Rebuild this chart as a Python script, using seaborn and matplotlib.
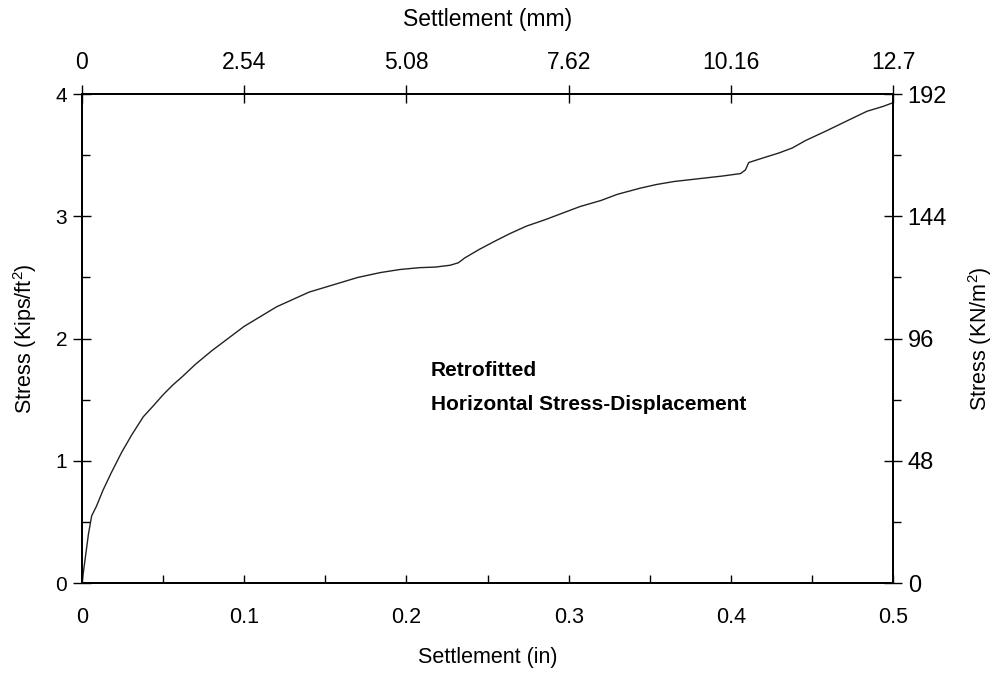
import matplotlib
matplotlib.use("Agg")
import matplotlib.pyplot as plt
import seaborn as sns
import pandas as pd
from matplotlib import font_manager
from matplotlib.ticker import MultipleLocator, FixedLocator

# Data (settlement in inches, stress in kips/ft^2)
settlement_in = [0.0, 0.002, 0.004, 0.006, 0.009, 0.013, 0.018, 0.0245, 0.0306, 0.0378,
                 0.044, 0.050, 0.056, 0.062, 0.07, 0.08, 0.09, 0.10, 0.11, 0.12,
                 0.13, 0.14, 0.15, 0.16, 0.17, 0.184, 0.196, 0.208, 0.218, 0.227,
                 0.232, 0.236, 0.245, 0.255, 0.264, 0.274, 0.285, 0.295, 0.307, 0.32,
                 0.33, 0.344, 0.354, 0.365, 0.375, 0.395, 0.406, 0.409, 0.411, 0.418,
                 0.430, 0.438, 0.446, 0.459, 0.473, 0.484, 0.494, 0.5]
stress_ksf = [0.0, 0.20, 0.40, 0.55, 0.63, 0.76, 0.90, 1.07, 1.21, 1.36,
              1.45, 1.54, 1.62, 1.69, 1.79, 1.90, 2.00, 2.10, 2.18, 2.26,
              2.32, 2.38, 2.42, 2.46, 2.50, 2.54, 2.565, 2.58, 2.585, 2.60,
              2.62, 2.66, 2.73, 2.80, 2.86, 2.92, 2.97, 3.02, 3.08, 3.13,
              3.18, 3.23, 3.26, 3.285, 3.30, 3.33, 3.35, 3.38, 3.44, 3.47,
              3.52, 3.56, 3.62, 3.70, 3.79, 3.86, 3.90, 3.93]

x_ticks_in = [0, 0.1, 0.2, 0.3, 0.4, 0.5]
x_ticks_in_labels = ["0", "0.1", "0.2", "0.3", "0.4", "0.5"]
x_ticks_mm = [0, 2.54, 5.08, 7.62, 10.16, 12.7]
x_ticks_mm_labels = ["0", "2.54", "5.08", "7.62", "10.16", "12.7"]
y_ticks_ksf = [0, 1, 2, 3, 4]
y_ticks_kn = [0, 48, 96, 144, 192]

sns.set_style("ticks")
plt.rcParams['font.family'] = ['Liberation Sans', 'DejaVu Sans']
plt.rcParams['mathtext.fontset'] = 'custom'
plt.rcParams['mathtext.rm'] = 'Liberation Sans'
plt.rcParams['text.color'] = 'black'
plt.rcParams['axes.labelcolor'] = 'black'
plt.rcParams['xtick.color'] = 'black'
plt.rcParams['ytick.color'] = 'black'

names = {f.name for f in font_manager.fontManager.ttflist}
narrow = 'Liberation Sans Narrow' if 'Liberation Sans Narrow' in names else 'Liberation Sans'

fig = plt.figure(figsize=(10.08, 6.77), dpi=100)
ax = fig.add_axes([0.0813, 0.1388, 0.8047, 0.7222])

df = pd.DataFrame({"Settlement (in)": settlement_in, "Stress": stress_ksf})
sns.lineplot(data=df, x="Settlement (in)", y="Stress", ax=ax, color="#222222",
             linewidth=1.0, sort=False, estimator=None)

ax.set_xlim(0, 0.5)
ax.set_ylim(0, 4)
ax.set_xticks(x_ticks_in)
ax.set_xticklabels(x_ticks_in_labels)
ax.set_yticks(y_ticks_ksf)
ax.xaxis.set_minor_locator(MultipleLocator(0.05))
ax.yaxis.set_minor_locator(MultipleLocator(0.5))
ax.tick_params(axis='x', which='major', direction='in', length=6, width=1, labelsize=15.5, pad=17)
ax.tick_params(axis='x', which='minor', direction='in', length=6, width=1)
ax.tick_params(axis='y', which='major', direction='inout', length=13, width=1, labelsize=15, pad=4)
ax.tick_params(axis='y', which='minor', direction='in', length=6, width=1)
ax.set_xlabel("Settlement (in)", fontsize=15.5, labelpad=14)
ax.set_ylabel("Stress (Kips/ft$^2$)", fontsize=15.5, labelpad=12)
for s in ax.spines.values():
    s.set_linewidth(1.2)
    s.set_color('black')

ax.text(0.215, 1.74, "Retrofitted", fontsize=15, fontweight='bold', va='center')
ax.text(0.215, 1.46, "Horizontal Stress-Displacement", fontsize=15, fontweight='bold', va='center')

# right axis (kN/m^2)
axr = ax.twinx()
axr.set_ylim(0, 192)
axr.set_yticks(y_ticks_kn)
axr.yaxis.set_minor_locator(MultipleLocator(24))
axr.tick_params(axis='y', which='major', direction='inout', length=13, width=1, labelsize=17, pad=4)
axr.tick_params(axis='y', which='minor', direction='out', length=6, width=1)
axr.set_ylabel("Stress (KN/m$^2$)", fontsize=15.5, labelpad=14)

# top axis (mm)
axt = ax.twiny()
axt.set_xlim(0, 12.7)
axt.xaxis.set_major_locator(FixedLocator(x_ticks_mm))
axt.set_xticklabels(x_ticks_mm_labels, family=[narrow, 'DejaVu Sans'])
axt.tick_params(axis='x', which='major', direction='inout', length=13, width=1, labelsize=16.5, pad=8)
axt.set_xlabel("Settlement (mm)", fontsize=16.5, labelpad=18, family=[narrow, 'DejaVu Sans'])

for a in (axr, axt):
    for s in a.spines.values():
        s.set_linewidth(1.2)
        s.set_color('black')

fig.savefig("out.png", dpi=100)
